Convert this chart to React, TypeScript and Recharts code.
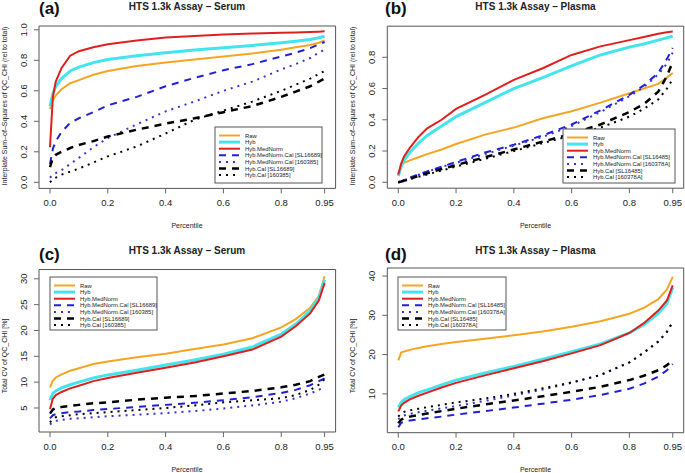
import React from 'react';
import { LineChart, Line, XAxis, YAxis, ReferenceArea } from 'recharts';

// percentile grid shared by all four panels
const percentile = [0, 0.01, 0.02, 0.04, 0.07, 0.1, 0.15, 0.2, 0.3, 0.4, 0.5, 0.6, 0.7, 0.8, 0.85, 0.9, 0.93, 0.95];

// (a) serum - interplate sum of squares
const serumSsRaw = [0.48, 0.54, 0.57, 0.61, 0.65, 0.67, 0.705, 0.73, 0.762, 0.785, 0.805, 0.825, 0.845, 0.87, 0.885, 0.9, 0.915, 0.93];
const serumSsHyb = [0.5, 0.58, 0.63, 0.68, 0.73, 0.755, 0.785, 0.805, 0.83, 0.85, 0.868, 0.883, 0.897, 0.915, 0.925, 0.937, 0.948, 0.958];
const serumSsMedNorm = [0.23, 0.56, 0.66, 0.75, 0.83, 0.86, 0.885, 0.905, 0.93, 0.95, 0.96, 0.97, 0.975, 0.98, 0.983, 0.986, 0.988, 0.99];
const serumSsMedNormCalA = [0.12, 0.22, 0.27, 0.33, 0.39, 0.42, 0.46, 0.505, 0.56, 0.63, 0.685, 0.735, 0.775, 0.825, 0.85, 0.88, 0.905, 0.92];
const serumSsMedNormCalB = [0.03, 0.05, 0.06, 0.08, 0.12, 0.16, 0.23, 0.29, 0.38, 0.465, 0.53, 0.6, 0.66, 0.74, 0.775, 0.815, 0.85, 0.87];
const serumSsCalA = [0.1, 0.16, 0.18, 0.2, 0.225, 0.245, 0.27, 0.3, 0.345, 0.385, 0.42, 0.46, 0.5, 0.56, 0.595, 0.63, 0.66, 0.68];
const serumSsCalB = [0, 0.02, 0.03, 0.05, 0.07, 0.09, 0.13, 0.17, 0.235, 0.32, 0.41, 0.47, 0.53, 0.6, 0.64, 0.68, 0.71, 0.73];

// (b) plasma - interplate sum of squares
const plasmaSsRaw = [0.05, 0.1, 0.125, 0.14, 0.16, 0.18, 0.21, 0.245, 0.305, 0.35, 0.41, 0.455, 0.51, 0.57, 0.6, 0.63, 0.67, 0.7];
const plasmaSsHyb = [0.04, 0.1, 0.14, 0.19, 0.25, 0.3, 0.36, 0.42, 0.51, 0.6, 0.67, 0.745, 0.815, 0.865, 0.885, 0.91, 0.925, 0.935];
const plasmaSsMedNorm = [0.05, 0.12, 0.165, 0.22, 0.29, 0.345, 0.4, 0.47, 0.56, 0.655, 0.73, 0.815, 0.87, 0.91, 0.93, 0.95, 0.96, 0.965];
const plasmaSsMedNormCalA = [0, 0.005, 0.015, 0.03, 0.05, 0.07, 0.1, 0.13, 0.19, 0.24, 0.3, 0.37, 0.46, 0.56, 0.62, 0.7, 0.79, 0.86];
const plasmaSsMedNormCalB = [0, 0.005, 0.013, 0.028, 0.048, 0.068, 0.098, 0.125, 0.18, 0.235, 0.29, 0.36, 0.45, 0.55, 0.61, 0.69, 0.76, 0.83];
const plasmaSsCalA = [0, 0.004, 0.01, 0.022, 0.04, 0.058, 0.085, 0.11, 0.16, 0.21, 0.26, 0.31, 0.37, 0.45, 0.5, 0.58, 0.68, 0.77];
const plasmaSsCalB = [0, 0.003, 0.008, 0.02, 0.035, 0.05, 0.075, 0.1, 0.15, 0.2, 0.25, 0.3, 0.35, 0.42, 0.47, 0.53, 0.6, 0.66];

// (c) serum - total CV [%]
const serumCvRaw = [9, 10.3, 10.9, 11.5, 12.2, 12.7, 13.5, 14, 14.8, 15.5, 16.4, 17.3, 18.5, 20.6, 22.2, 24.4, 26.7, 30.5];
const serumCvHyb = [6.5, 7.8, 8.3, 8.9, 9.5, 10, 10.8, 11.4, 12.3, 13.3, 14.3, 15.4, 16.8, 19.3, 21.2, 23.8, 26.3, 29.8];
const serumCvMedNorm = [4.8, 6.8, 7.5, 8.1, 8.8, 9.3, 10.2, 10.8, 11.8, 12.8, 13.8, 15, 16.3, 18.8, 20.8, 23.3, 25.8, 29.2];
const serumCvMedNormCalA = [3, 3.6, 3.8, 4, 4.2, 4.3, 4.6, 4.8, 5.2, 5.6, 6, 6.5, 7.1, 7.9, 8.5, 9.4, 10.2, 10.7];
const serumCvMedNormCalB = [1.8, 2.3, 2.5, 2.7, 2.9, 3, 3.2, 3.4, 3.7, 4, 4.4, 4.9, 5.5, 6.2, 6.9, 7.8, 8.5, 9.2];
const serumCvCalA = [3.9, 4.7, 5, 5.2, 5.4, 5.6, 5.9, 6.1, 6.6, 7, 7.3, 7.8, 8.3, 9, 9.5, 10.2, 11, 11.5];
const serumCvCalB = [2.2, 2.9, 3.2, 3.4, 3.6, 3.8, 4, 4.2, 4.6, 5, 5.5, 6.1, 6.5, 6.9, 7.5, 8.5, 9.5, 10.6];

// (d) plasma - total CV [%]
const plasmaCvRaw = [18.5, 20.5, 20.8, 21.2, 21.7, 22.1, 22.7, 23.2, 24, 24.9, 25.9, 27.1, 28.5, 30.4, 31.9, 34.1, 36.6, 39.8];
const plasmaCvHyb = [6.5, 7.8, 8.5, 9.3, 10.3, 11, 12.3, 13.5, 15.3, 17, 18.8, 20.7, 22.7, 25.5, 27.6, 30.5, 33, 37];
const plasmaCvMedNorm = [5.5, 7, 7.7, 8.6, 9.5, 10.3, 11.6, 12.8, 14.7, 16.5, 18.3, 20.3, 22.4, 25.5, 28, 31.2, 33.8, 37.6];
const plasmaCvMedNormCalA = [1.5, 2.6, 2.9, 3.2, 3.5, 3.8, 4.2, 4.7, 5.6, 6.5, 7.5, 8.5, 9.7, 11.3, 12.6, 14.4, 16, 17.6];
const plasmaCvMedNormCalB = [3.5, 4.2, 4.5, 4.9, 5.3, 5.7, 6.3, 6.9, 8.2, 9.6, 11.1, 12.8, 14.8, 18, 20.5, 23.3, 25.8, 28.3];
const plasmaCvCalA = [2.5, 3.4, 3.8, 4.2, 4.6, 5, 5.6, 6.2, 7.3, 8.3, 9.4, 10.5, 11.8, 13.5, 14.6, 16, 17.3, 18.6];
const plasmaCvCalB = [4.2, 5, 5.4, 5.8, 6.2, 6.6, 7.2, 7.8, 8.8, 10, 11.4, 12.9, 14.8, 18, 20.5, 23.3, 25.8, 28.4];

const xTicks = [0, 0.2, 0.4, 0.6, 0.8, 0.95];
const ssTicks = [0, 0.2, 0.4, 0.6, 0.8, 1.0];
const ssTicksPlasma = [0, 0.2, 0.4, 0.6, 0.8];
const cvTicksSerum = [5, 10, 15, 20, 25, 30];
const cvTicksPlasma = [10, 20, 30, 40];

const serumLabels = ['Raw', 'Hyb', 'Hyb.MedNorm', 'Hyb.MedNorm.Cal [SL16689]', 'Hyb.MedNorm.Cal [160385]', 'Hyb.Cal [SL16689]', 'Hyb.Cal [160385]'];
const plasmaLabels = ['Raw', 'Hyb', 'Hyb.MedNorm', 'Hyb.MedNorm.Cal [SL16485]', 'Hyb.MedNorm.Cal [160378A]', 'Hyb.Cal [SL16485]', 'Hyb.Cal [160378A]'];

const SERIES = [
  { key: 'raw', color: '#f7a520', width: 2, dash: undefined },
  { key: 'hyb', color: '#42e4ee', width: 3, dash: undefined },
  { key: 'medNorm', color: '#e0201e', width: 2, dash: undefined },
  { key: 'medNormCalA', color: '#2020d8', width: 2, dash: '7 6' },
  { key: 'medNormCalB', color: '#3434d6', width: 2, dash: '2 5' },
  { key: 'calA', color: '#000000', width: 2.5, dash: '7 6' },
  { key: 'calB', color: '#000000', width: 2, dash: '2 5' },
];

const buildRows = (cols: number[][]) =>
  percentile.map((p, i) => {
    const row: Record<string, number> = { p };
    SERIES.forEach((s, j) => { row[s.key] = cols[j][i]; });
    return row;
  });

const X_DOMAIN: [number, number] = [-0.038, 0.988];
const FONT = '"Liberation Sans", Arial, Helvetica, sans-serif';

const fmt1 = (v: number) => (v === 0.95 ? '0.95' : v.toFixed(1));
const fmtInt = (v: number) => String(v);

const YTick = (props: any) => {
  const { x, y, payload, fmt } = props;
  return (
    <text x={x} y={y} transform={`rotate(-90, ${x}, ${y})`} textAnchor="middle" fontSize={9.5} fill="#222">
      {fmt(payload.value)}
    </text>
  );
};

interface PanelProps {
  pos: [number, number, number, number];
  box: [number, number, number, number];
  rows: Record<string, number>[];
  yDomain: [number, number];
  yTicks: number[];
  yFmt: (v: number) => string;
}

const Panel: React.FC<PanelProps> = ({ pos, box, rows, yDomain, yTicks, yFmt }) => {
  const [px, py, w, h] = pos;
  const [bl, bt, br, bb] = box;
  const xAxisH = 40;
  return (
    <div style={{ position: 'absolute', left: px, top: py, width: w, height: h }}>
      <LineChart
        width={w}
        height={h}
        data={rows}
        margin={{ top: bt - py, left: 0, right: px + w - br, bottom: py + h - bb - xAxisH }}
      >
        <XAxis
          dataKey="p"
          type="number"
          domain={X_DOMAIN}
          ticks={xTicks}
          tickFormatter={fmt1}
          allowDataOverflow
          axisLine={false}
          tickSize={5}
          tickMargin={6}
          height={xAxisH}
          tick={{ fontSize: 9.5, fill: '#222' }}
          tickLine={{ stroke: '#666' }}
          interval={0}
        />
        <YAxis
          type="number"
          domain={yDomain}
          ticks={yTicks}
          allowDataOverflow
          axisLine={false}
          width={bl - px}
          tickSize={5}
          tickMargin={7}
          tickLine={{ stroke: '#666' }}
          tick={(p: any) => <YTick {...p} fmt={yFmt} />}
          interval={0}
        />
        <ReferenceArea
          x1={X_DOMAIN[0]}
          x2={X_DOMAIN[1]}
          y1={yDomain[0]}
          y2={yDomain[1]}
          fill="none"
          stroke="#555"
          strokeWidth={1}
          fillOpacity={0}
          ifOverflow="visible"
        />
        {SERIES.map((s) => (
          <Line
            key={s.key}
            dataKey={s.key}
            type="linear"
            stroke={s.color}
            strokeWidth={s.width}
            strokeDasharray={s.dash}
            dot={false}
            activeDot={false}
            isAnimationActive={false}
          />
        ))}
      </LineChart>
    </div>
  );
};

const LegendBox: React.FC<{ x: number; y: number; w: number; h: number; labels: string[] }> = ({ x, y, w, h, labels }) => (
  <g>
    <rect x={x} y={y} width={w} height={h} fill="#fff" stroke="#555" strokeWidth={1} />
    {SERIES.map((s, i) => {
      const ry = y + 8.5 + i * 6.6;
      return (
        <g key={s.key}>
          <line x1={x + 4} x2={x + 25} y1={ry} y2={ry} stroke={s.color} strokeWidth={s.width} strokeDasharray={s.dash} />
          <text x={x + 30} y={ry + 2.1} fontSize={5.9} fill="#222">{labels[i]}</text>
        </g>
      );
    })}
  </g>
);

const serumSsRows = buildRows([serumSsRaw, serumSsHyb, serumSsMedNorm, serumSsMedNormCalA, serumSsMedNormCalB, serumSsCalA, serumSsCalB]);
const plasmaSsRows = buildRows([plasmaSsRaw, plasmaSsHyb, plasmaSsMedNorm, plasmaSsMedNormCalA, plasmaSsMedNormCalB, plasmaSsCalA, plasmaSsCalB]);
const serumCvRows = buildRows([serumCvRaw, serumCvHyb, serumCvMedNorm, serumCvMedNormCalA, serumCvMedNormCalB, serumCvCalA, serumCvCalB]);
const plasmaCvRows = buildRows([plasmaCvRaw, plasmaCvHyb, plasmaCvMedNorm, plasmaCvMedNormCalA, plasmaCvMedNormCalB, plasmaCvCalA, plasmaCvCalB]);

const ssLabel = 'Interplate Sum\u2013of\u2013Squares of QC_CHI (rel to total)';
const cvLabel = 'Total CV of QC_CHI [%]';

export default function App() {
  return (
    <div style={{ position: 'absolute', left: 0, top: 0, width: 685, height: 473, background: '#fff', fontFamily: FONT, overflow: 'hidden' }}>
      <Panel pos={[0, 0, 345, 237]} box={[39, 26, 335.6, 188.4]} rows={serumSsRows} yDomain={[-0.04, 1.025]} yTicks={ssTicks} yFmt={(v) => v.toFixed(1)} />
      <Panel pos={[340, 0, 345, 237]} box={[387.3, 26.2, 683.7, 188.2]} rows={plasmaSsRows} yDomain={[-0.038, 0.999]} yTicks={ssTicksPlasma} yFmt={(v) => v.toFixed(1)} />
      <Panel pos={[0, 237, 345, 236]} box={[39, 269.5, 335.6, 432]} rows={serumCvRows} yDomain={[0.35, 31.8]} yTicks={cvTicksSerum} yFmt={fmtInt} />
      <Panel pos={[340, 237, 345, 236]} box={[387.3, 268, 683.7, 432.7]} rows={plasmaCvRows} yDomain={[0.1, 42.05]} yTicks={cvTicksPlasma} yFmt={fmtInt} />
      <svg width={685} height={473} style={{ position: 'absolute', left: 0, top: 0, pointerEvents: 'none', fontFamily: FONT }}>
        <text x={39} y={14} fontSize={17} fontWeight="bold" fill="#111">(a)</text>
        <text x={385} y={14} fontSize={17} fontWeight="bold" fill="#111">(b)</text>
        <text x={39} y={260} fontSize={17} fontWeight="bold" fill="#111">(c)</text>
        <text x={385} y={260} fontSize={17} fontWeight="bold" fill="#111">(d)</text>

        <text x={187} y={9.6} fontSize={10} fontWeight="bold" textAnchor="middle" fill="#222">HTS 1.3k Assay – Serum</text>
        <text x={535.5} y={9.6} fontSize={10} fontWeight="bold" textAnchor="middle" fill="#222">HTS 1.3k Assay – Plasma</text>
        <text x={187} y={253.6} fontSize={10} fontWeight="bold" textAnchor="middle" fill="#222">HTS 1.3k Assay – Serum</text>
        <text x={535.5} y={253.6} fontSize={10} fontWeight="bold" textAnchor="middle" fill="#222">HTS 1.3k Assay – Plasma</text>

        <text x={187} y={227.5} fontSize={7} textAnchor="middle" fill="#222">Percentile</text>
        <text x={535.5} y={227.5} fontSize={7} textAnchor="middle" fill="#222">Percentile</text>
        <text x={187} y={471.5} fontSize={7} textAnchor="middle" fill="#222">Percentile</text>
        <text x={535.5} y={471.5} fontSize={7} textAnchor="middle" fill="#222">Percentile</text>

        <text x={7} y={106} fontSize={7} textAnchor="middle" fill="#222" transform="rotate(-90, 7, 106)">{ssLabel}</text>
        <text x={355} y={106} fontSize={7} textAnchor="middle" fill="#222" transform="rotate(-90, 355, 106)">{ssLabel}</text>
        <text x={7} y={356} fontSize={7} textAnchor="middle" fill="#222" transform="rotate(-90, 7, 356)">{cvLabel}</text>
        <text x={355} y={356} fontSize={7} textAnchor="middle" fill="#222" transform="rotate(-90, 355, 356)">{cvLabel}</text>

        <LegendBox x={215} y={127} w={107} h={56} labels={serumLabels} />
        <LegendBox x={563} y={129} w={112} h={54} labels={plasmaLabels} />
        <LegendBox x={50} y={277} w={107} h={53} labels={serumLabels} />
        <LegendBox x={398} y={277} w={108} h={53} labels={plasmaLabels} />
      </svg>
    </div>
  );
}
